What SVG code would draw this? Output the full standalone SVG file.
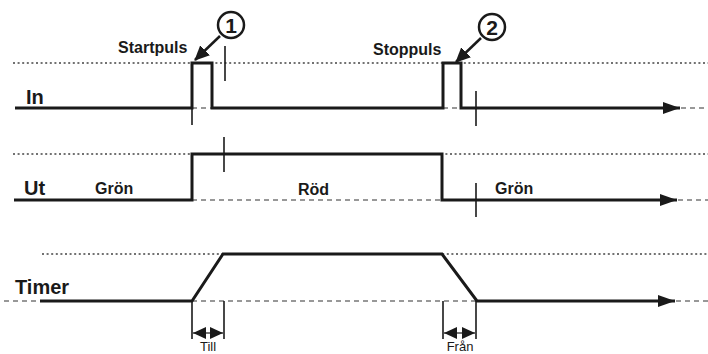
<svg xmlns="http://www.w3.org/2000/svg" width="708" height="354" viewBox="0 0 708 354">
<style>
.sig{fill:none;stroke:#1a1a1a;stroke-width:3;stroke-linejoin:miter}
.dot{fill:none;stroke:#444;stroke-width:1.3;stroke-dasharray:2 2.6}
.dash{fill:none;stroke:#777;stroke-width:1.5;stroke-dasharray:5 4}
.tick{fill:none;stroke:#1a1a1a;stroke-width:1.6}
.row{font-family:"Liberation Sans",Arial,sans-serif;font-weight:bold;font-size:20px;fill:#1a1a1a}
.lbl{font-family:"Liberation Sans",Arial,sans-serif;font-weight:bold;font-size:16px;fill:#1a1a1a}
.num{font-family:"Liberation Sans",Arial,sans-serif;font-weight:bold;font-size:21px;fill:#1a1a1a;text-anchor:middle}
.dimt{font-family:"Liberation Sans",Arial,sans-serif;font-size:13px;fill:#1a1a1a;text-anchor:middle}
.call{fill:none;stroke:#1a1a1a;stroke-width:2.5}
.dimline{fill:none;stroke:#1a1a1a;stroke-width:1.2}
</style>
<defs>
<marker id="sigArrow" markerUnits="userSpaceOnUse" markerWidth="18" markerHeight="12" refX="17" refY="6" orient="auto"><path d="M0,0 L17,6 L0,12 Z" fill="#1a1a1a"/></marker>
<marker id="callArrow" markerUnits="userSpaceOnUse" markerWidth="15" markerHeight="14" refX="14" refY="7" orient="auto"><path d="M0,0 L15,7 L0,14 Z" fill="#1a1a1a"/></marker>
<marker id="dimArrow" markerUnits="userSpaceOnUse" markerWidth="13" markerHeight="12" refX="13" refY="6" orient="auto-start-reverse"><path d="M0,0 L13,6 L0,12 Z" fill="#1a1a1a"/></marker>
</defs>

<g id="row-in">
<line class="dot" x1="13" y1="63" x2="708" y2="63"/>
<line class="dash" x1="192" y1="108" x2="212" y2="108"/>
<line class="dash" x1="443" y1="108" x2="461" y2="108"/>
<line class="dash" x1="681" y1="108" x2="708" y2="108"/>
<path class="sig" d="M15,108 H192 V63 H212 V108 H443 V63 H461 V108 H680" marker-end="url(#sigArrow)"/>
<line class="tick" x1="192" y1="108" x2="192" y2="125"/>
<line class="tick" x1="225" y1="46" x2="225" y2="81"/>
<line class="tick" x1="476" y1="91" x2="476" y2="126"/>
<text class="row" x="26" y="104">In</text>
</g>

<g id="callout-1">
<text class="lbl" x="118" y="53">Startpuls</text>
<circle cx="231" cy="25" r="13" fill="none" stroke="#1a1a1a" stroke-width="2.5"/>
<text class="num" x="231" y="33">1</text>
<line class="call" x1="220" y1="36" x2="195" y2="60" marker-end="url(#callArrow)"/>
</g>

<g id="callout-2">
<text class="lbl" x="373" y="55">Stoppuls</text>
<circle cx="492" cy="27" r="13" fill="none" stroke="#1a1a1a" stroke-width="2.5"/>
<text class="num" x="492" y="35">2</text>
<line class="call" x1="481" y1="38" x2="456" y2="62" marker-end="url(#callArrow)"/>
</g>

<g id="row-ut">
<line class="dot" x1="13" y1="154" x2="708" y2="154"/>
<line class="dash" x1="192" y1="200" x2="442" y2="200"/>
<line class="dash" x1="678" y1="200" x2="708" y2="200"/>
<path class="sig" d="M14,200 H192 V154 H442 V200 H677" marker-end="url(#sigArrow)"/>
<line class="tick" x1="224" y1="137" x2="224" y2="172"/>
<line class="tick" x1="476" y1="183" x2="476" y2="217"/>
<text class="row" x="24" y="195">Ut</text>
<text class="lbl" x="95" y="194">Grön</text>
<text class="lbl" x="298" y="195">Röd</text>
<text class="lbl" x="495" y="194">Grön</text>
</g>

<g id="row-timer">
<line class="dot" x1="42" y1="254" x2="708" y2="254"/>
<line class="dash" x1="4" y1="301" x2="40" y2="301"/>
<line class="dash" x1="192" y1="301" x2="477" y2="301"/>
<line class="dash" x1="676" y1="301" x2="708" y2="301"/>
<path class="sig" d="M40,301 H192 L223,254 H442 L477,301 H675" marker-end="url(#sigArrow)"/>
<text class="row" x="15" y="294">Timer</text>
</g>

<g id="dim-till">
<line class="tick" x1="192" y1="301" x2="192" y2="339"/>
<line class="tick" x1="224" y1="301" x2="224" y2="339"/>
<line class="dimline" x1="193" y1="333" x2="223" y2="333" marker-start="url(#dimArrow)" marker-end="url(#dimArrow)"/>
<text class="dimt" x="208" y="351">Till</text>
</g>

<g id="dim-fran">
<line class="tick" x1="443" y1="301" x2="443" y2="339"/>
<line class="tick" x1="476" y1="301" x2="476" y2="339"/>
<line class="dimline" x1="444" y1="333" x2="475" y2="333" marker-start="url(#dimArrow)" marker-end="url(#dimArrow)"/>
<text class="dimt" x="460" y="351">Från</text>
</g>
</svg>
